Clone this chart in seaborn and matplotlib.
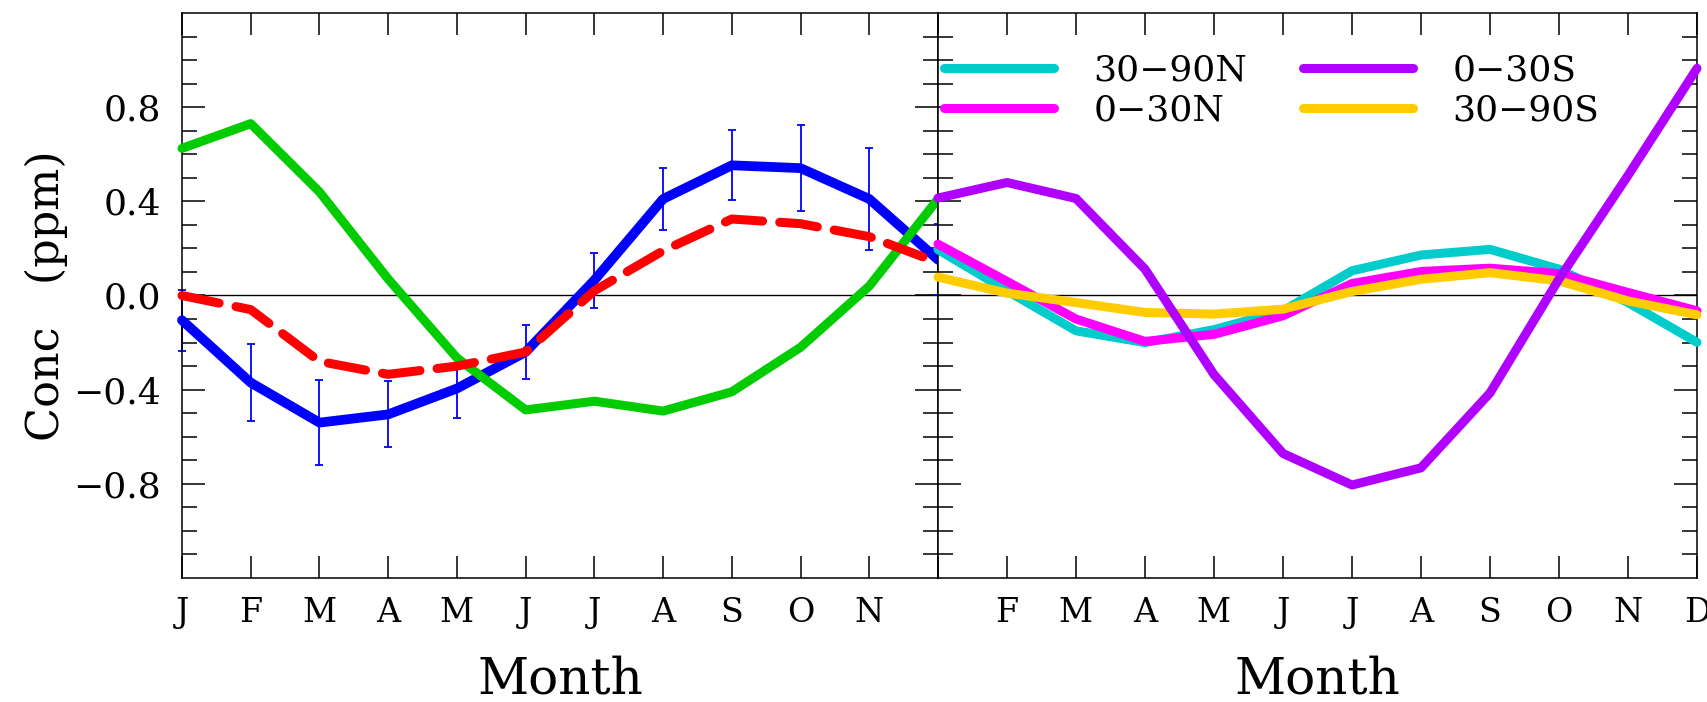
import numpy as np
import pandas as pd
import matplotlib
matplotlib.use("Agg")
import matplotlib.pyplot as plt
import seaborn as sns
from matplotlib.ticker import FuncFormatter

# Month labels (index 0 = January)
months = ["J", "F", "M", "A", "M", "J", "J", "A", "S", "O", "N", "D"]

# Left panel: observed seasonal cycle with 1-sigma error bars and two model curves
obs = [-0.105, -0.37, -0.54, -0.505, -0.395, -0.24, 0.065, 0.41, 0.553, 0.541, 0.41, 0.152]
obs_err = [0.13, 0.165, 0.18, 0.14, 0.125, 0.115, 0.117, 0.131, 0.149, 0.182, 0.218, 0.15]
model_dashed = [0.00, -0.06, -0.28, -0.335, -0.30, -0.24, 0.02, 0.19, 0.325, 0.305, 0.25, 0.14]
model_green = [0.625, 0.73, 0.44, 0.07, -0.265, -0.486, -0.449, -0.491, -0.409, -0.22, 0.04, 0.41]

# Right panel: latitude bands
band_labels = ["30\u221290N", "0\u221230N", "0\u221230S", "30\u221290S"]
band_30_90N = [0.195, 0.02, -0.15, -0.20, -0.145, -0.065, 0.105, 0.172, 0.196, 0.112, -0.03, -0.199]
band_0_30N = [0.218, 0.06, -0.10, -0.195, -0.165, -0.086, 0.051, 0.102, 0.116, 0.093, 0.013, -0.065]
band_0_30S = [0.414, 0.48, 0.412, 0.112, -0.336, -0.671, -0.805, -0.732, -0.414, 0.07, 0.51, 0.965]
band_30_90S = [0.078, 0.01, -0.03, -0.072, -0.079, -0.058, 0.017, 0.069, 0.097, 0.062, -0.023, -0.082]

band_colors = ["#00CCCC", "#FF00FF", "#B000FF", "#FFCC00"]
band_z = [3, 4, 6, 5]

sns.set_style("ticks")
plt.rcParams["font.family"] = ["DejaVu Serif"]
plt.rcParams["axes.unicode_minus"] = True
plt.rcParams["axes.linewidth"] = 1.1
plt.rcParams["lines.solid_capstyle"] = "round"
plt.rcParams["lines.dash_capstyle"] = "round"
for key in ("text.color", "axes.labelcolor", "xtick.color", "ytick.color",
            "xtick.labelcolor", "ytick.labelcolor", "axes.edgecolor"):
    plt.rcParams[key] = "black"

x = np.arange(12)

fig = plt.figure(figsize=(17.08, 7.02), dpi=100)
ax1 = fig.add_axes([0.10656, 0.17664, 0.44262, 0.80484])
ax2 = fig.add_axes([0.54918, 0.17664, 0.44438, 0.80484])

LW = 6.5

# ---- left panel ----
ax1.axhline(0, color="black", lw=1.0, zorder=1)
ax1.errorbar(x, obs, yerr=obs_err, fmt="none", ecolor="#0000FF", elinewidth=1.3,
             capsize=3.2, capthick=1.3, zorder=2, clip_on=False)
df_left = pd.DataFrame({"month": x, "obs": obs, "green": model_green, "dashed": model_dashed})
sns.lineplot(data=df_left, x="month", y="obs", ax=ax1, color="#0000FF", lw=LW + 0.5,
             zorder=3, clip_on=False, sort=False)
sns.lineplot(data=df_left, x="month", y="green", ax=ax1, color="#00CC00", lw=LW,
             zorder=4, clip_on=False, sort=False)
sns.lineplot(data=df_left, x="month", y="dashed", ax=ax1, color="#FF0000", lw=LW,
             zorder=5, clip_on=False, sort=False, linestyle=(0, (4.2, 1.9)))

# ---- right panel ----
ax2.axhline(0, color="black", lw=1.0, zorder=1)
bands = [band_30_90N, band_0_30N, band_0_30S, band_30_90S]
df_right = pd.DataFrame({
    "month": np.tile(x, len(bands)),
    "conc": np.concatenate(bands),
    "band": np.repeat(band_labels, 12),
})
handles = []
for lab, col, z in zip(band_labels, band_colors, band_z):
    sns.lineplot(data=df_right[df_right["band"] == lab], x="month", y="conc", ax=ax2,
                 color=col, lw=LW, zorder=z, clip_on=False, sort=False)
    handles.append(ax2.lines[-1])

# ---- axes styling ----
fmt = FuncFormatter(lambda v, p: f"{v:.1f}".replace("-", "\u2212"))
for ax in (ax1, ax2):
    ax.set_xlim(0, 11)
    ax.set_ylim(-1.2, 1.2)
    ax.set_xticks(x)
    ax.set_yticks([-0.8, -0.4, 0.0, 0.4, 0.8])
    ax.set_yticks([v / 10 for v in range(-11, 12) if v % 4 != 0], minor=True)
    ax.yaxis.set_major_formatter(fmt)
    ax.tick_params(axis="both", which="both", direction="in", top=True, right=True,
                   width=1.1, color="black", labelcolor="black")
    ax.tick_params(axis="y", which="major", length=16.5, labelsize=26, pad=15)
    ax.tick_params(axis="y", which="minor", length=11)
    ax.tick_params(axis="x", which="major", length=16, labelsize=24, pad=13.5)
    for s in ax.spines.values():
        s.set_color("black")
        s.set_linewidth(1.1)
    ax.set_xlabel("Month", fontsize=36, labelpad=19, color="black")
    ax.set_ylabel("")

ax1.set_xticklabels(months[:11] + [""])
ax2.set_xticklabels([""] + months[1:])
ax2.tick_params(axis="y", which="both", labelleft=False)
ax1.set_ylabel("Conc   (ppm)", fontsize=32, labelpad=4, color="black")

ax2.legend(handles, band_labels, ncol=2, loc="upper left",
           bbox_to_anchor=(0.5527, 0.9236), bbox_transform=fig.transFigure,
           frameon=False, fontsize=26, handlelength=3.05, handletextpad=1.08,
           columnspacing=1.55, labelspacing=0.16, borderpad=0, borderaxespad=0,
           labelcolor="black")

fig.savefig("out.png", dpi=100)
